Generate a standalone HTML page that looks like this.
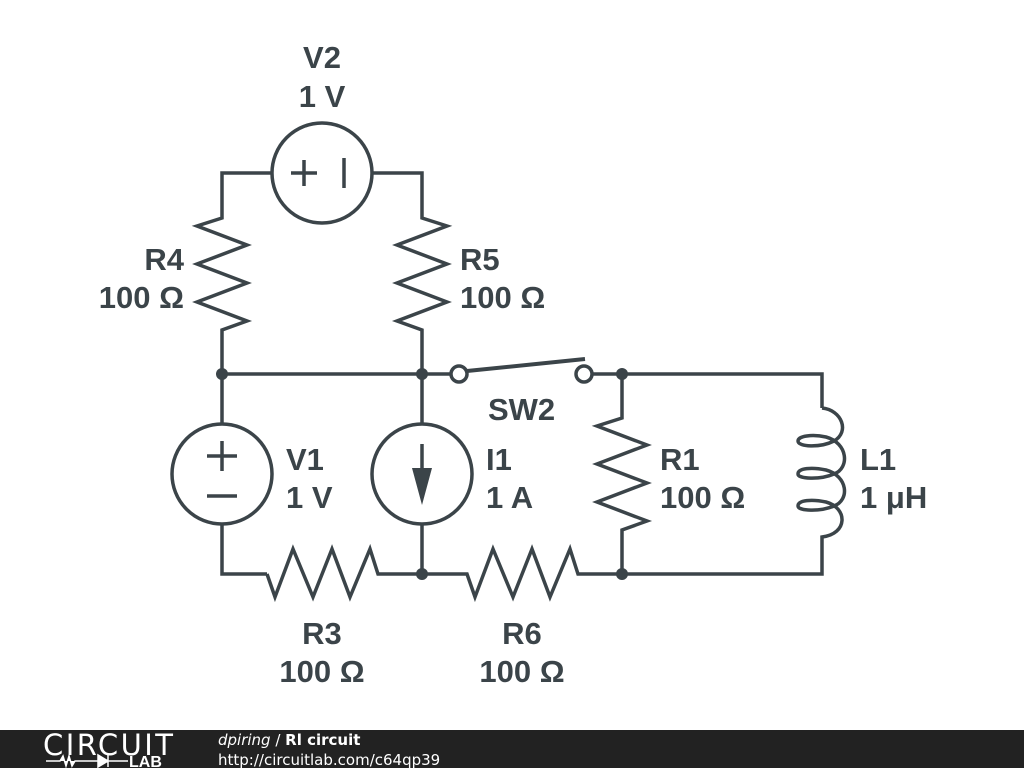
<!DOCTYPE html>
<html><head><style>
html,body{margin:0;padding:0;background:#fff;width:1024px;height:768px;overflow:hidden}
svg{display:block}
text{font-family:"Liberation Sans",sans-serif;font-weight:bold;fill:#3b4449}
</style></head><body>
<svg width="1024" height="768" viewBox="0 0 1024 768">
<g fill="none" stroke="#3b4449" stroke-width="3.5" stroke-linejoin="miter">
<path d="M272,173 H222 V218 L197,226 L247,245 L197,264 L247,283 L197,302 L247,321 L222,330 V574 H267"/>
<path d="M372,173 H422 V218 L447,226 L397,245 L447,264 L397,283 L447,302 L397,321 L422,330 V574"/>
<circle cx="322" cy="173" r="50"/>
<path d="M291,173 H317 M304,160 V186 M344,158 V188"/>
<path d="M222,374 H451 M592,374 H822 V408"/>
<path d="M467,371 L585,359" stroke-width="4"/>
<circle cx="459" cy="374" r="8" fill="#fff"/>
<circle cx="584" cy="374" r="8" fill="#fff"/>
<circle cx="222" cy="474" r="50" fill="#fff"/>
<path d="M207,456 H237 M222,441 V471 M207,496 H237"/>
<circle cx="422" cy="474" r="50" fill="#fff"/>
<path d="M422,444 V490"/>
<path d="M267,574 L275,597 L293,549 L313,597 L332,549 L350,597 L370,549 L378,574 H467 L475,597 L493,549 L513,597 L532,549 L550,597 L570,549 L578,574 H822 V540"/>
<path d="M622,374 V418 L597,426 L647,445 L597,464 L647,483 L597,502 L647,521 L622,530 V574"/>
<path d="M822,408 C842,410 850,432 834,441 C820,448 798,447 798,441 C798,436 812,434 826,437 C848,443 850,468 834,474 C820,480 798,479 798,474 C798,468 812,467 826,470 C848,476 850,500 834,506 C820,512 798,511 798,506 C798,500 812,499 826,502 C848,508 848,534 822,537 V540"/>
</g>
<g fill="#3b4449">
<circle cx="222" cy="374" r="6"/><circle cx="422" cy="374" r="6"/><circle cx="622" cy="374" r="6"/>
<circle cx="422" cy="574" r="6"/><circle cx="622" cy="574" r="6"/>
<path d="M412,468 L432,468 L422,505 Z"/>
</g>
<g font-size="31">
<text x="322" y="68" text-anchor="middle">V2</text>
<text x="322" y="107" text-anchor="middle">1 V</text>
<text x="184" y="270" text-anchor="end">R4</text>
<text x="184" y="308" text-anchor="end">100 Ω</text>
<text x="460" y="270">R5</text>
<text x="460" y="308">100 Ω</text>
<text x="488" y="420">SW2</text>
<text x="286" y="470">V1</text>
<text x="286" y="508">1 V</text>
<text x="486" y="470">I1</text>
<text x="486" y="508">1 A</text>
<text x="660" y="470">R1</text>
<text x="660" y="508">100 Ω</text>
<text x="860" y="470">L1</text>
<text x="860" y="508">1 μH</text>
<text x="322" y="644" text-anchor="middle">R3</text>
<text x="322" y="682" text-anchor="middle">100 Ω</text>
<text x="522" y="644" text-anchor="middle">R6</text>
<text x="522" y="682" text-anchor="middle">100 Ω</text>
</g>
<rect x="0" y="730" width="1024" height="38" fill="#222"/>
<text x="43" y="755" font-size="29" textLength="130" style="font-weight:normal;fill:#fff;font-family:'DejaVu Sans',sans-serif">CIRCUIT</text>
<path d="M46,761 H60 L63,756 L66,766 L69,756 L72,766 L75,761 H98 M98,755 V767 L108,761 Z M108,755 V767 M108,761 H128" stroke="#fff" stroke-width="1.5" fill="#fff"/>
<text x="129" y="767" font-size="16" style="fill:#fff">LAB</text>
<text x="218" y="745" font-size="15" style="fill:#fff;font-weight:normal;font-family:'DejaVu Sans',sans-serif"><tspan font-style="italic">dpiring</tspan> / <tspan font-weight="bold">Rl circuit</tspan></text>
<text x="218" y="765" font-size="15" style="fill:#fff;font-weight:normal;font-family:'DejaVu Sans',sans-serif">http://circuitlab.com/c64qp39</text>
</svg>
</body></html>
